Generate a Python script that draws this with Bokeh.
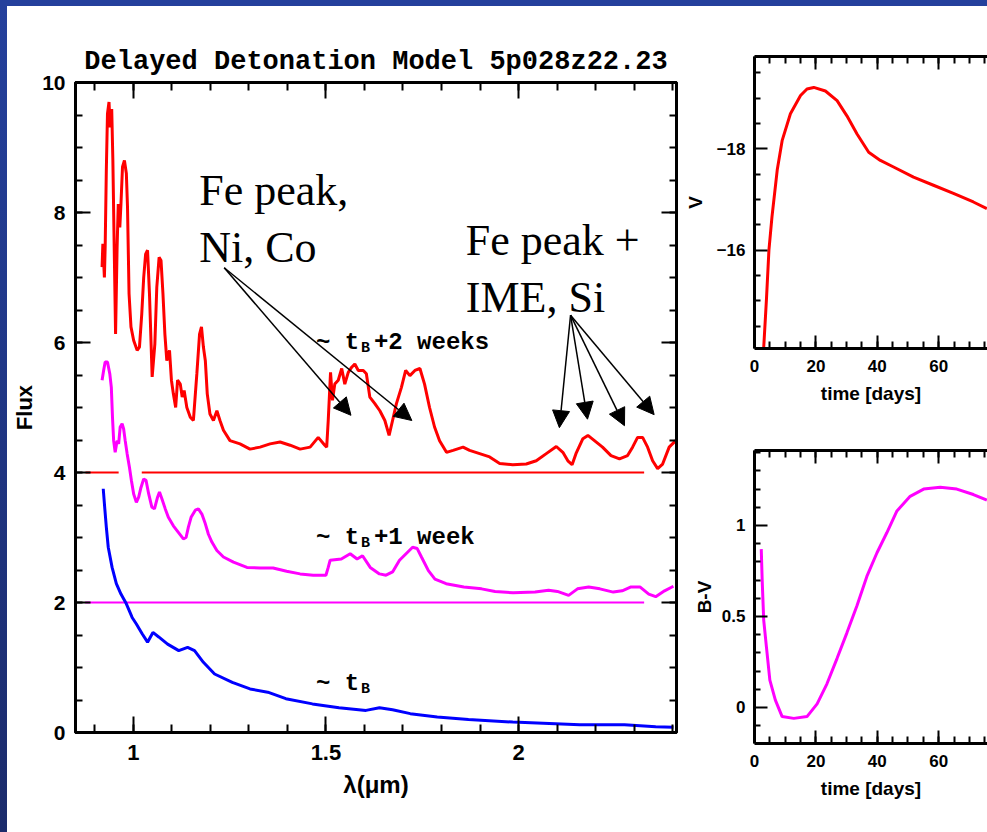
from bokeh.plotting import figure
from bokeh.models import Range1d, LinearAxis, FixedTicker, Arrow, NormalHead, ColumnDataSource, Div
from bokeh.layouts import row, column
from bokeh.embed import file_html
from bokeh.resources import INLINE
from bokeh.core.properties import value

# ---------------- data ----------------
title_text = "Delayed Detonation Model 5p028z22.23"

# spectrum at ~ t_B + 2 weeks (offset +4)
red_wl = [0.919, 0.921, 0.925, 0.927, 0.930, 0.933, 0.937, 0.940, 0.944, 0.947,
          0.951, 0.954, 0.958, 0.961, 0.965, 0.968, 0.972, 0.977, 0.982, 0.985,
          0.989, 0.994, 1.001, 1.010, 1.016, 1.022, 1.027, 1.032, 1.037, 1.042,
          1.049, 1.056, 1.061, 1.067, 1.072, 1.077, 1.082, 1.087, 1.094, 1.099,
          1.104, 1.110, 1.115, 1.122, 1.127, 1.132, 1.139, 1.148, 1.156, 1.165,
          1.172, 1.177, 1.182, 1.187, 1.192, 1.199, 1.208, 1.217, 1.225, 1.234,
          1.251, 1.277, 1.303, 1.329, 1.355, 1.381, 1.407, 1.433, 1.459, 1.480,
          1.497,
          1.502, 1.506, 1.512, 1.517, 1.523, 1.532, 1.541, 1.549, 1.558, 1.567,
          1.575, 1.584, 1.597, 1.605, 1.614, 1.627, 1.640, 1.653, 1.664, 1.673,
          1.683, 1.696, 1.707, 1.718, 1.731, 1.744, 1.756, 1.769, 1.782, 1.795,
          1.813, 1.830, 1.856, 1.873, 1.899, 1.925, 1.951, 1.985, 2.020, 2.046,
          2.072, 2.098, 2.115, 2.128, 2.139, 2.149, 2.167, 2.180, 2.197, 2.218,
          2.240, 2.262, 2.283, 2.296, 2.309, 2.322, 2.335, 2.348, 2.361, 2.374,
          2.391, 2.408]
red_flux = [7.16, 7.52, 7.00, 7.47, 8.65, 9.52, 9.70, 9.31, 9.59, 8.80,
            7.26, 6.13, 7.47, 8.13, 7.77, 8.13, 8.70, 8.80, 8.60, 8.08,
            6.75, 6.24, 6.03, 5.88, 5.93, 6.44, 7.00, 7.36, 7.42, 6.75,
            5.47, 5.98, 6.85, 7.31, 7.26, 6.75, 6.13, 5.72, 5.88, 5.42,
            5.21, 5.00, 5.42, 5.36, 5.16, 5.26, 5.00, 4.85, 4.80, 5.52,
            6.13, 6.24, 5.93, 5.72, 5.21, 4.90, 4.80, 4.95, 4.80, 4.65,
            4.49, 4.44, 4.36, 4.39, 4.44, 4.47, 4.42, 4.36, 4.39, 4.54,
            4.42,
            4.39, 4.80, 5.54, 5.11, 5.36, 5.42, 5.60, 5.36, 5.54, 5.62,
            5.67, 5.57, 5.57, 5.52, 5.16, 5.06, 4.95, 4.80, 4.57, 4.80,
            5.06, 5.31, 5.57, 5.49, 5.57, 5.60, 5.36, 5.00, 4.70, 4.49,
            4.31, 4.34, 4.39, 4.34, 4.29, 4.24, 4.14, 4.12, 4.13, 4.18,
            4.29, 4.40, 4.31, 4.18, 4.12, 4.29, 4.52, 4.57, 4.49, 4.39,
            4.26, 4.21, 4.26, 4.39, 4.54, 4.54, 4.39, 4.18, 4.06, 4.13,
            4.39, 4.49]

# spectrum at ~ t_B + 1 week (offset +2)
mag_wl = [0.919, 0.923, 0.927, 0.933, 0.939, 0.943, 0.946, 0.949, 0.953, 0.958,
          0.962, 0.966, 0.971, 0.975, 0.979, 0.984, 0.990, 0.995, 1.001, 1.008,
          1.014, 1.020, 1.027, 1.033, 1.040, 1.048, 1.055, 1.063, 1.068, 1.074,
          1.083, 1.091, 1.104, 1.117, 1.130, 1.137, 1.143, 1.150, 1.161, 1.169,
          1.178, 1.187, 1.195, 1.204, 1.217, 1.234, 1.260, 1.295, 1.329, 1.363,
          1.398, 1.433, 1.467, 1.500, 1.506, 1.511, 1.540, 1.563, 1.581, 1.595,
          1.615, 1.639, 1.656, 1.673, 1.691, 1.708, 1.725, 1.737, 1.748, 1.766,
          1.783, 1.812, 1.858, 1.904, 1.939, 1.986, 2.043, 2.078, 2.101, 2.130,
          2.153, 2.182, 2.211, 2.246, 2.269, 2.292, 2.315, 2.338, 2.356, 2.379,
          2.402]
mag_flux = [5.42, 5.57, 5.70, 5.70, 5.52, 5.31, 4.85, 4.49, 4.31, 4.49,
            4.44, 4.70, 4.75, 4.67, 4.49, 4.29, 4.08, 3.88, 3.67, 3.54,
            3.62, 3.77, 3.90, 3.88, 3.67, 3.47, 3.44, 3.62, 3.70, 3.60,
            3.44, 3.31, 3.18, 3.08, 2.98, 3.00, 3.16, 3.31, 3.42, 3.44,
            3.36, 3.21, 3.05, 2.93, 2.80, 2.70, 2.62, 2.54, 2.53, 2.53,
            2.48, 2.44, 2.42, 2.42, 2.54, 2.65, 2.67, 2.75, 2.67, 2.72,
            2.54, 2.44, 2.42, 2.47, 2.65, 2.75, 2.85, 2.83, 2.70, 2.49,
            2.36, 2.29, 2.24, 2.21, 2.17, 2.15, 2.16, 2.19, 2.17, 2.11,
            2.21, 2.24, 2.21, 2.16, 2.18, 2.24, 2.24, 2.13, 2.09, 2.18,
            2.25]

# spectrum at ~ t_B (no offset)
blue_wl = [0.922, 0.925, 0.930, 0.935, 0.945, 0.956, 0.968, 0.982, 0.997, 1.008,
           1.023, 1.037, 1.051, 1.066, 1.089, 1.118, 1.141, 1.159, 1.182, 1.211,
           1.257, 1.303, 1.349, 1.396, 1.465, 1.534, 1.604, 1.639, 1.673, 1.719,
           1.789, 1.870, 1.985, 2.159, 2.275, 2.356, 2.402]
blue_flux = [3.75, 3.52, 3.16, 2.85, 2.54, 2.29, 2.13, 1.98, 1.77, 1.67,
             1.52, 1.39, 1.54, 1.47, 1.36, 1.26, 1.31, 1.26, 1.08, 0.90,
             0.77, 0.67, 0.62, 0.52, 0.44, 0.38, 0.34, 0.38, 0.35, 0.29,
             0.24, 0.20, 0.16, 0.12, 0.12, 0.09, 0.08]

# zero levels of the offset spectra
red_zero_wl = [0.876, 0.962, float("nan"), 1.022, 2.326]
red_zero_flux = [4, 4, float("nan"), 4, 4]
mag_zero_wl = [0.875, 2.326]
mag_zero_flux = [2, 2]

# V light curve
lc_t = [3.0, 3.9, 4.7, 5.7, 7.4, 9.0, 11.7, 15.0, 17.1, 19.3, 23.1, 26.9, 30.1,
        33.4, 37.2, 41.0, 45.3, 51.8, 58.3, 64.8, 71.3, 75.7]
lc_V = [-14.08, -15.04, -16.0, -16.66, -17.58, -18.16, -18.69, -19.05, -19.18,
        -19.21, -19.14, -18.95, -18.65, -18.29, -17.93, -17.77, -17.64, -17.44,
        -17.28, -17.12, -16.95, -16.82]

# B-V colour curve
bv_t = [2.2, 2.5, 3.0, 3.9, 5.0, 6.8, 9.0, 12.8, 17.1, 20.4, 23.6, 26.9, 30.1,
        33.4, 36.6, 39.9, 43.1, 46.4, 50.7, 55.1, 60.5, 65.9, 71.3, 75.7]
bv_val = [0.87, 0.70, 0.48, 0.33, 0.15, 0.04, -0.05, -0.06, -0.05, 0.02, 0.13,
          0.27, 0.41, 0.56, 0.72, 0.85, 0.96, 1.08, 1.16, 1.20, 1.21, 1.20,
          1.17, 1.14]

# tick labels
spec_x_ticks = {1: "1", 1.5: "1.5", 2: "2"}
spec_y_ticks = {0: "0", 2: "2", 4: "4", 6: "6", 8: "8", 10: "10"}
time_ticks = {0: "0", 20: "20", 40: "40", 60: "60"}
v_ticks = {-18: "\u221218", -16: "\u221216"}
bv_ticks = {0: "0", 0.5: "0.5", 1: "1"}

epoch_labels = ["~ t", "B", "+2 weeks", "~ t", "B", "+1 week", "~ t", "B"]
element_labels = ["Fe peak,", "Ni, Co", "Fe peak +", "IME, Si"]

# ---------------- helpers ----------------
def steps(a, b, step):
    n = int(round((b - a) / step))
    return [round(a + i * step, 4) for i in range(n + 1)]


def style_axis(ax, labels, minor, major_len, minor_len, font_size, standoff, show=True):
    ticks = list(labels.keys())
    ax.ticker = FixedTicker(ticks=ticks, minor_ticks=minor)
    ax.axis_line_width = 3
    ax.axis_line_color = "black"
    ax.major_tick_in = major_len
    ax.major_tick_out = 0
    ax.minor_tick_in = minor_len
    ax.minor_tick_out = 0
    ax.major_tick_line_width = 2
    ax.minor_tick_line_width = 2
    ax.major_tick_line_color = "black"
    ax.minor_tick_line_color = "black"
    ax.major_label_text_font = "Liberation Sans"
    ax.major_label_text_font_style = "bold"
    ax.major_label_text_font_size = font_size
    ax.major_label_text_color = "black"
    if show:
        ax.major_label_standoff = standoff
        ax.major_label_overrides = dict(labels)
    else:
        ax.major_label_standoff = 0
        ax.major_label_overrides = {k: "" for k in ticks}


def style_label(ax, size, standoff):
    ax.axis_label_text_font = "Liberation Sans"
    ax.axis_label_text_font_style = "bold"
    ax.axis_label_text_font_size = size
    ax.axis_label_text_color = "black"
    ax.axis_label_standoff = standoff


# ---------------- left: spectra ----------------
p = figure(width=673, height=826, x_range=Range1d(0.85, 2.41), y_range=Range1d(0, 10),
           output_backend="svg", toolbar_location=None,
           x_axis_location=None, y_axis_location=None,
           min_border_left=68, min_border_right=4, min_border_top=76, min_border_bottom=100,
           title=title_text)
p.grid.visible = False
p.outline_line_color = "black"
p.outline_line_width = 3
p.title.align = "center"
p.title.text_font = "Liberation Mono"
p.title.text_font_style = "bold"
p.title.text_font_size = "27px"
p.title.text_color = "black"
p.title.standoff = 12

sx_minor = steps(0.9, 2.4, 0.1)
sy_minor = steps(0, 10, 0.5)

xb = LinearAxis(axis_label="\u03bb(\u03bcm)")
style_axis(xb, spec_x_ticks, sx_minor, 16, 8, "22px", 12)
style_label(xb, "24px", 8)
p.add_layout(xb, "below")
xa = LinearAxis()
style_axis(xa, spec_x_ticks, sx_minor, 16, 8, "22px", 0, show=False)
p.add_layout(xa, "above")
yl = LinearAxis(axis_label="Flux")
style_axis(yl, spec_y_ticks, sy_minor, 15, 7, "21px", 10)
style_label(yl, "22px", 2)
p.add_layout(yl, "left")
yr = LinearAxis()
style_axis(yr, spec_y_ticks, sy_minor, 15, 7, "21px", 0, show=False)
p.add_layout(yr, "right")

p.line(red_zero_wl, red_zero_flux, line_color="#ff0000", line_width=2)
p.line(mag_zero_wl, mag_zero_flux, line_color="#ff00ff", line_width=2)
p.line(red_wl, red_flux, line_color="#ff0000", line_width=3)
p.line(mag_wl, mag_flux, line_color="#ff00ff", line_width=3)
p.line(blue_wl, blue_flux, line_color="#0000ff", line_width=3)

mono = dict(text_font=value("Liberation Mono"), text_font_style="bold",
            text_color="black", text_baseline="alphabetic", text_align="left")
for ypos, i in ((6.0, 0), (3.0, 3), (0.75, 6)):
    p.text(x=[1.474], y=[ypos], text=[epoch_labels[i]], text_font_size="24px", **mono)
    p.text(x=[1.474], y=[ypos], text=[epoch_labels[i + 1]], text_font_size="15px",
           x_offset=45, y_offset=6, **mono)
    if i + 2 < len(epoch_labels):
        p.text(x=[1.474], y=[ypos], text=[epoch_labels[i + 2]], text_font_size="24px",
               x_offset=58, **mono)

serif = dict(text_font=value("Liberation Serif"), text_font_size="44px",
             text_color="black", text_baseline="alphabetic", text_align="left")
p.text(x=[1.171, 1.171], y=[8.34, 7.46], text=element_labels[:2], **serif)
p.text(x=[1.863, 1.863], y=[7.57, 6.69], text=element_labels[2:], **serif)

arrow_src = ColumnDataSource(dict(
    x0=[1.236, 1.236, 2.135, 2.135, 2.135, 2.135],
    y0=[7.15, 7.15, 6.42, 6.42, 6.42, 6.42],
    x1=[1.565, 1.723, 2.106, 2.179, 2.275, 2.352],
    y1=[4.88, 4.80, 4.69, 4.82, 4.72, 4.89]))
p.add_layout(Arrow(source=arrow_src, x_start="x0", y_start="y0", x_end="x1", y_end="y1",
                   line_width=1.5, line_color="black",
                   end=NormalHead(size=17, fill_color="black", line_color="black")))

# ---------------- right top: V light curve ----------------
t_minor = steps(5, 75, 5)

pv = figure(width=307, height=414, x_range=Range1d(0, 75.9), y_range=Range1d(-14.06, -19.82),
            output_backend="svg", toolbar_location=None,
            x_axis_location=None, y_axis_location=None,
            min_border_left=74, min_border_right=0, min_border_top=50, min_border_bottom=72)
pv.grid.visible = False
pv.outline_line_color = None

vb = LinearAxis(axis_label="time [days]")
style_axis(vb, time_ticks, t_minor, 13, 7, "17px", 11)
style_label(vb, "19px", 8)
pv.add_layout(vb, "below")
va = LinearAxis()
style_axis(va, time_ticks, t_minor, 13, 7, "17px", 0, show=False)
pv.add_layout(va, "above")
vl = LinearAxis(axis_label="V")
style_axis(vl, v_ticks, [-19.5, -19, -18.5, -17.5, -17, -16.5, -15.5, -15, -14.5], 13, 6, "17px", 9)
style_label(vl, "19px", 8)
pv.add_layout(vl, "left")
pv.line(lc_t, lc_V, line_color="#ff0000", line_width=3)

# ---------------- right bottom: B-V colour ----------------
pb = figure(width=307, height=412, x_range=Range1d(0, 75.9), y_range=Range1d(-0.198, 1.412),
            output_backend="svg", toolbar_location=None,
            x_axis_location=None, y_axis_location=None,
            min_border_left=74, min_border_right=0, min_border_top=30, min_border_bottom=89)
pb.grid.visible = False
pb.outline_line_color = None

bb = LinearAxis(axis_label="time [days]")
style_axis(bb, time_ticks, t_minor, 13, 7, "17px", 11)
style_label(bb, "19px", 8)
pb.add_layout(bb, "below")
ba = LinearAxis()
style_axis(ba, time_ticks, t_minor, 13, 7, "17px", 0, show=False)
pb.add_layout(ba, "above")
bl = LinearAxis(axis_label="B-V")
style_axis(bl, bv_ticks, [-0.1, 0.1, 0.2, 0.3, 0.4, 0.6, 0.7, 0.8, 0.9, 1.1, 1.2, 1.3, 1.4],
           13, 6, "17px", 9)
style_label(bl, "19px", 4)
pb.add_layout(bl, "left")
pb.line(bv_t, bv_val, line_color="#ff00ff", line_width=3)

# ---------------- slide frame ----------------
top_strip = Div(text="", width=987, height=6, margin=0,
                styles={"background-color": "#24409c"})
left_strip = Div(text="", width=7, height=826, margin=0,
                 styles={"background": "linear-gradient(#24409c, #1b2b6b)"})

layout = column(top_strip,
                row(left_strip, p, column(pv, pb, spacing=0), spacing=0),
                spacing=0)

open("out.html", "w").write(file_html(layout, INLINE))
